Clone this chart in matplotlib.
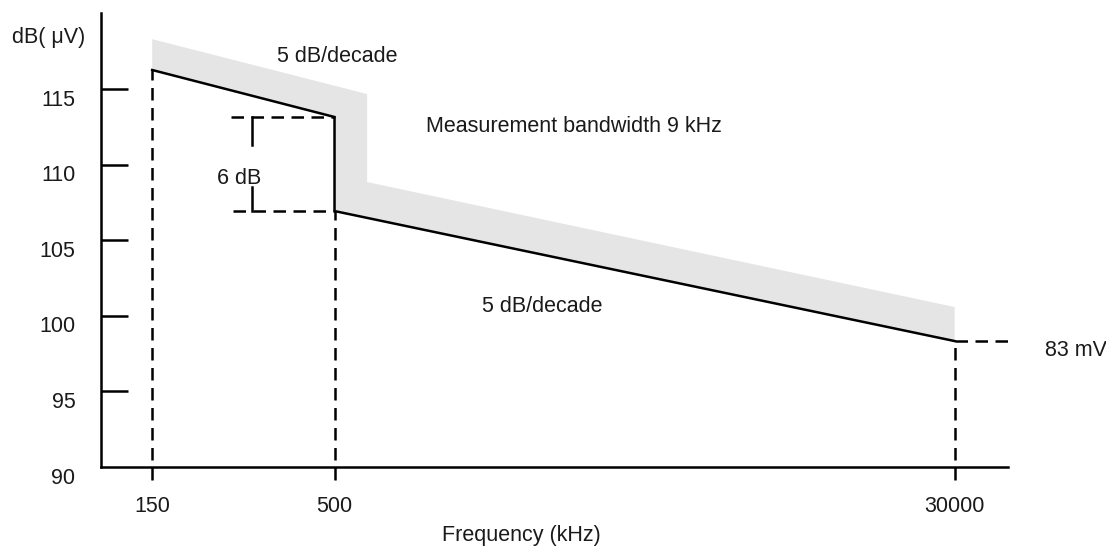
import matplotlib
matplotlib.use("Agg")
import matplotlib.pyplot as plt
from matplotlib.transforms import ScaledTranslation

plt.rcParams['font.family'] = ['Liberation Sans', 'DejaVu Sans']

# ---- data ----
line_freq = [150, 500, 500, 30000]          # kHz
line_db = [116.26, 113.15, 106.93, 98.33]   # dB(uV)

band_freq = [150, 620, 620, 30000, 30000, 500, 500, 150]
band_db = [118.3, 114.67, 108.85, 100.58, 98.33, 106.93, 113.15, 116.26]

marker_freqs = [150, 500, 30000]
marker_tops = [116.26, 106.93, 98.33]
xtick_labels = ['150', '500', '30000']

yticks = [95, 100, 105, 110, 115]
ytick_labels = ['90', '95', '100', '105', '110', '115']

step_high = 113.15
step_low = 106.93
bracket_freq = 290
bracket_start = 252
end_level = 98.33

TXT = '#1a1a1a'
FS = 15.5
LW = 1.8

fig = plt.figure(figsize=(11.06, 5.47), dpi=100)
W, H = 1106, 547
ax = fig.add_axes([101 / W, 1 - 467 / H, 907 / W, 454 / H])
ax.set_xscale('log')
ax.set_xlim(107.0, 42660)
ax.set_ylim(90, 120.03)

ax.fill(band_freq, band_db, color='#e5e5e5', lw=0, zorder=1)
ax.plot(line_freq, line_db, color='black', lw=LW, zorder=3, solid_joinstyle='miter')

dash = (0, (5, 3))
ymin_ext = 89.14
for f, top in zip(marker_freqs, marker_tops):
    ax.plot([f, f], [ymin_ext, top], color='black', lw=LW, linestyle=dash,
            clip_on=False, zorder=2)

# 6 dB bracket
ax.plot([bracket_start, 500], [step_high, step_high], color='black', lw=LW,
        linestyle=dash, zorder=2)
ax.plot([bracket_start + 3, 500], [step_low, step_low], color='black', lw=LW,
        linestyle=dash, zorder=2)
ax.plot([bracket_freq, bracket_freq], [step_high, 111.3], color='black', lw=LW, zorder=2)
ax.plot([bracket_freq, bracket_freq], [108.5, step_low], color='black', lw=LW, zorder=2)

# 83 mV level
ax.plot([30000, 42660], [end_level, end_level], color='black', lw=LW,
        linestyle=dash, clip_on=False, zorder=2)

for s in ['top', 'right']:
    ax.spines[s].set_visible(False)
for s in ['left', 'bottom']:
    ax.spines[s].set_linewidth(LW)

ax.set_yticks([90] + yticks)
ax.set_yticklabels(ytick_labels)
ax.tick_params(axis='y', direction='in', length=19.4, width=LW, pad=18.5,
               labelsize=FS, labelcolor=TXT)
# hide tick mark at 90 (it sits on the axis)
ax.yaxis.get_major_ticks()[0].tick1line.set_visible(False)
off = ScaledTranslation(0, -0.085, fig.dpi_scale_trans)
for lab in ax.get_yticklabels():
    lab.set_transform(lab.get_transform() + off)

ax.set_xticks(marker_freqs)
ax.set_xticklabels(xtick_labels)
ax.xaxis.set_minor_locator(matplotlib.ticker.NullLocator())
ax.tick_params(axis='x', length=0, pad=21, labelsize=FS, labelcolor=TXT)

ax.set_xlabel('Frequency (kHz)', fontsize=FS, color=TXT, va='center')
ax.xaxis.set_label_coords((521 - 101) / 907, (467 - 535) / 454)

def ftext(x, y, s, ha='left'):
    fig.text(x / W, 1 - y / H, s, ha=ha, va='center', fontsize=FS, color=TXT)

ftext(12, 38, 'dB( μV)')
ftext(277, 57, '5 dB/decade')
ftext(426, 126, 'Measurement bandwidth 9 kHz')
ftext(482, 307, '5 dB/decade')
ftext(217, 178, '6 dB')
ftext(1045, 350, '83 mV')

fig.savefig('out.png', dpi=100)
